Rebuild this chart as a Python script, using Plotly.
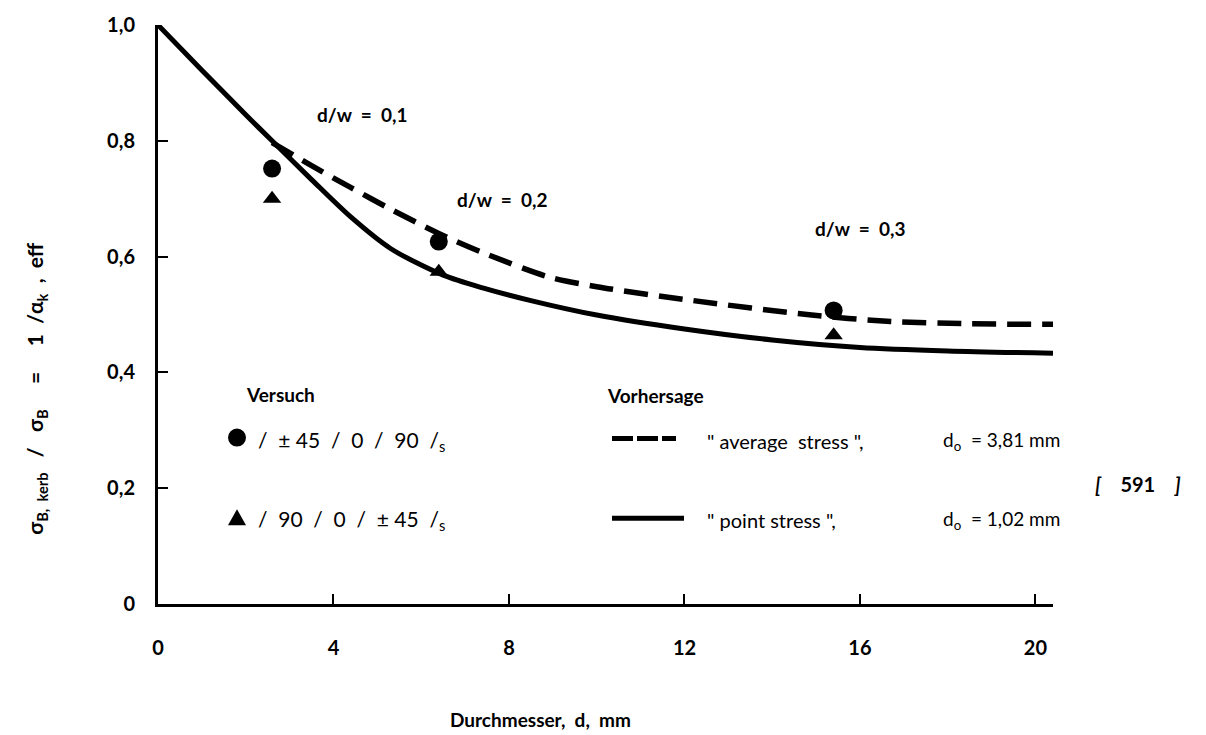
import plotly.graph_objects as go

# Measured notch strength ratios (Versuch)
d_test = [2.6, 6.4, 15.4]
ratio_circle = [0.752, 0.626, 0.507]    # /±45/0/90/s
ratio_triangle = [0.700, 0.574, 0.464]  # /90/0/±45/s
dw_labels = ["d/w  =  0,1", "d/w  =  0,2", "d/w  =  0,3"]

# Predictions (Vorhersage)
d_point = [0, 1.0, 2.0, 2.6, 3.5, 4.4, 5.3, 6.5, 7.4, 8.5, 10.0, 12.0, 14.0, 16.0, 18.0, 20.4]
r_point = [1.0, 0.922, 0.845, 0.80, 0.733, 0.668, 0.614, 0.568, 0.546, 0.524, 0.499, 0.475,
           0.456, 0.443, 0.437, 0.433]
d_avg = [2.6, 3.5, 4.4, 5.3, 6.4, 7.4, 8.9, 10.0, 12.2, 14.9, 16.7, 18.5, 20.4]
r_avg = [0.797, 0.757, 0.719, 0.682, 0.640, 0.607, 0.565, 0.548, 0.524, 0.499, 0.488, 0.484, 0.483]

x_ticks = [0, 4, 8, 12, 16, 20]
y_ticks = [0, 0.2, 0.4, 0.6, 0.8, 1.0]
y_ticktext = ["0", "0,2", "0,4", "0,6", "0,8", "1,0"]

W, H = 1206, 735
L, R, T, B = 158, 153, 23, 131
FONT = "Lato"


def px(xp):
    return (xp - L) / (W - L - R)


def py(yp):
    return (H - B - yp) / (H - B - T)


fig = go.Figure()

fig.add_trace(go.Scatter(x=d_point, y=r_point, mode="lines", line=dict(color="black", width=5),
                         line_shape="spline", line_smoothing=0.8, showlegend=False, hoverinfo="skip"))
fig.add_trace(go.Scatter(x=d_avg, y=r_avg, mode="lines",
                         line=dict(color="black", width=5.5, dash="24px,11px"),
                         line_shape="spline", line_smoothing=0.8, showlegend=False, hoverinfo="skip"))
fig.add_trace(go.Scatter(x=d_test, y=ratio_circle, mode="markers",
                         marker=dict(symbol="circle", size=18, color="black"), showlegend=False))
fig.add_trace(go.Scatter(x=d_test, y=ratio_triangle, mode="markers",
                         marker=dict(symbol="triangle-up", size=16, color="black"), showlegend=False))

annotations = []


def label(xp, yp, text, size, anchor="center", weight="bold", **kw):
    annotations.append(dict(x=px(xp), y=py(yp), xref="paper", yref="paper", text=text,
                            showarrow=False, xanchor=anchor, yanchor="middle",
                            font=dict(family=FONT, size=size, color="black", weight=weight), **kw))


for xp, yp, t in zip([362, 502, 860], [113, 198, 227], dw_labels):
    label(xp, yp, t, 19)

label(280, 394, "Versuch", 19)
label(655, 395, "Vorhersage", 19)
label(256, 440, "/  ± 45  /  0  /  90  /<sub>s</sub>", 21, anchor="left", weight="normal")
label(256, 520, "/  90  /  0  /  ± 45  /<sub>s</sub>", 21, anchor="left", weight="normal")
label(705, 440, "\" average  stress \",", 20, anchor="left", weight="normal")
label(941, 440, "d<sub>o</sub>  = 3,81 mm", 19, anchor="left", weight="normal")
label(705, 520, "\" point stress \",", 20, anchor="left", weight="normal")
label(941, 520, "d<sub>o</sub>  = 1,02 mm", 19, anchor="left", weight="normal")

label(1138, 484, "<i>[</i>    591    <i>]</i>", 20)
label(540, 720, "Durchmesser,  d,  mm", 19)
label(36, 388,
      "σ<sub>B,  kerb</sub>   /   σ<sub>B</sub>     =     1  /α<sub>k</sub>  ,  eff",
      21, textangle=-90)

shapes = [
    dict(type="circle", xref="paper", yref="paper", x0=px(228), x1=px(246), y0=py(446), y1=py(428),
         fillcolor="black", line=dict(width=0)),
    dict(type="path", xref="paper", yref="paper",
         path=f"M {px(228)} {py(525)} L {px(246)} {py(525)} L {px(237)} {py(509)} Z",
         fillcolor="black", line=dict(width=0)),
    dict(type="line", xref="paper", yref="paper", x0=px(612), x1=px(676), y0=py(438), y1=py(438),
         line=dict(color="black", width=5, dash="21px,4px")),
    dict(type="line", xref="paper", yref="paper", x0=px(612), x1=px(684), y0=py(518), y1=py(518),
         line=dict(color="black", width=5)),
]

fig.update_layout(
    width=W, height=H, autosize=False,
    margin=dict(l=L, r=R, t=T, b=B),
    plot_bgcolor="white", paper_bgcolor="white",
    annotations=annotations, shapes=shapes,
    xaxis=dict(range=[0, 20.4], tickvals=x_ticks, ticks="inside", ticklen=10, tickwidth=2,
               tickcolor="black", showline=True, linewidth=3, linecolor="black", showgrid=False,
               zeroline=False, ticklabelstandoff=24,
               tickfont=dict(family=FONT, size=20, color="black", weight="bold")),
    yaxis=dict(range=[0, 1.0], tickvals=y_ticks, ticktext=y_ticktext, ticks="inside", ticklen=10,
               tickwidth=2, tickcolor="black", showline=True, linewidth=3, linecolor="black",
               showgrid=False, zeroline=False, ticklabelstandoff=16,
               tickfont=dict(family=FONT, size=20, color="black", weight="bold")),
)

fig.write_html("out.html")
